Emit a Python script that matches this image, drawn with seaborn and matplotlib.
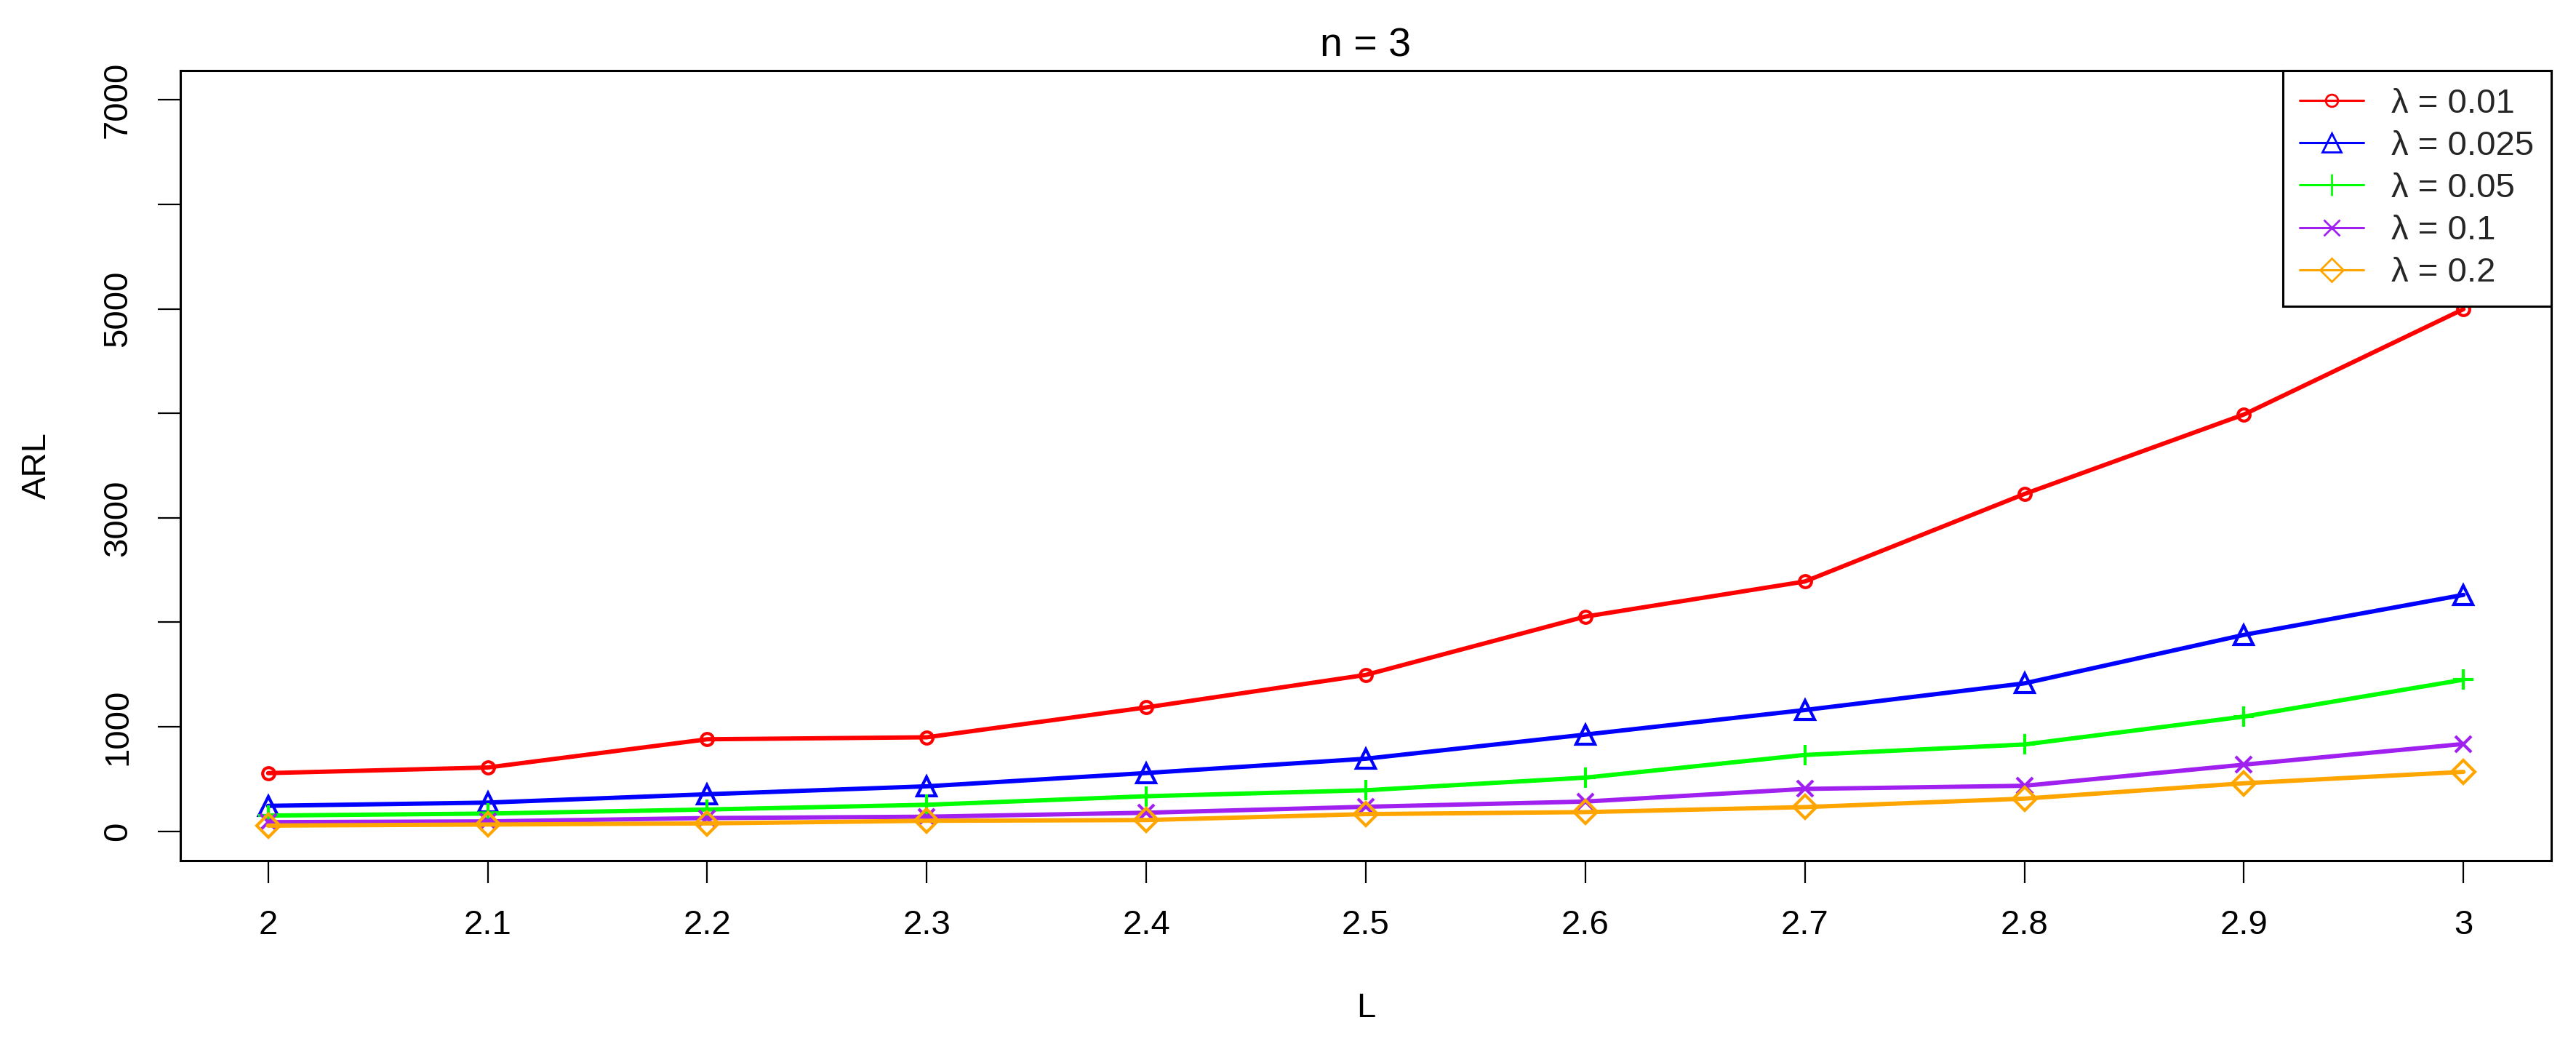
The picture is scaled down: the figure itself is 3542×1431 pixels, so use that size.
import numpy as np
import pandas as pd
import matplotlib
matplotlib.use("Agg")
import matplotlib.pyplot as plt
from matplotlib.lines import Line2D
import seaborn as sns

# L values on the x axis
L_values = [2.0, 2.1, 2.2, 2.3, 2.4, 2.5, 2.6, 2.7, 2.8, 2.9, 3.0]

# ARL, one list per lambda
arl_001 = [557, 611, 881, 900, 1186, 1497, 2055, 2391, 3228, 3989, 4997]
arl_0025 = [244, 275, 355, 431, 558, 695, 926, 1161, 1416, 1880, 2263]
arl_005 = [151, 170, 209, 254, 336, 393, 514, 731, 831, 1098, 1451]
arl_01 = [88, 95, 127, 140, 178, 235, 285, 406, 436, 638, 836]
arl_02 = [55, 65, 76, 101, 108, 165, 184, 232, 313, 460, 569]

series_labels = ["λ = 0.01", "λ = 0.025", "λ = 0.05", "λ = 0.1", "λ = 0.2"]
series_colors = ["#FF0000", "#0000FF", "#00FF00", "#A020F0", "#FFA500"]
series_markers = ["o", "^", "+", "x", "D"]
plot_msize = [12, 19, 20, 16, 16]
legend_msize = [12, 19, 22, 16, 16]

y_ticks = [0, 1000, 2000, 3000, 4000, 5000, 6000, 7000]
y_ticklabels = ["0", "1000", "", "3000", "", "5000", "", "7000"]
x_ticklabels = ["2", "2.1", "2.2", "2.3", "2.4", "2.5", "2.6", "2.7", "2.8", "2.9", "3"]


def build_frame():
    frames = []
    for lab, vals in zip(series_labels, [arl_001, arl_0025, arl_005, arl_01, arl_02]):
        frames.append(pd.DataFrame({"L": L_values, "ARL": vals, "lam": lab}))
    return pd.concat(frames, ignore_index=True)


df = build_frame()

sns.set_theme(style="ticks")
plt.rcParams["font.family"] = ["Liberation Sans", "DejaVu Sans"]

fig = plt.figure(figsize=(35.42, 14.31), dpi=100)
ax = fig.add_axes([0.0700, 0.1733, 0.9204, 0.7589])

for lab, col, mk, ms in zip(series_labels, series_colors, series_markers, plot_msize):
    sub = df[df["lam"] == lab]
    sns.lineplot(data=sub, x="L", y="ARL", color=col, marker=mk, markersize=ms,
                 mec=col, mfc="none", mew=3, lw=4.3, ax=ax, legend=False)

ax.set_xlim(1.96, 3.04)
ax.set_ylim(-280, 7280)
ax.set_xticks(L_values)
ax.set_xticklabels(x_ticklabels)
ax.set_yticks(y_ticks)
ax.set_yticklabels(y_ticklabels, rotation=90, va="center")

ax.tick_params(axis="both", direction="out", length=22, width=1.6, color="black",
               labelsize=34, labelcolor="black")
ax.tick_params(axis="x", pad=26)
ax.tick_params(axis="y", pad=24)

for sp in ax.spines.values():
    sp.set_visible(True)
    sp.set_color("black")
    sp.set_linewidth(2.2)

ax.set_title("n = 3", fontsize=40, pad=14, color="black")
ax.set_xlabel("L", fontsize=34, color="black", va="center")
ax.set_ylabel("ARL", fontsize=34, color="black", va="center")
ax.xaxis.set_label_coords(0.5, -0.187)
ax.yaxis.set_label_coords(-0.0604, 0.5)
ax.grid(False)

handles = [Line2D([0], [0], color=c, marker=m, markersize=s, mec=c, mfc="none", mew=2, lw=2.2)
           for c, m, s in zip(series_colors, series_markers, legend_msize)]
leg = ax.legend(handles, series_labels, loc="upper right", bbox_to_anchor=(1, 1),
                borderaxespad=0, fontsize=34, frameon=True, fancybox=False,
                handlelength=1.87, handletextpad=0.8, labelspacing=0.3, borderpad=0.5)
leg.get_frame().set_edgecolor("black")
leg.get_frame().set_linewidth(2.2)
leg.get_frame().set_alpha(1)

fig.savefig("out.png", dpi=100, facecolor="white")
